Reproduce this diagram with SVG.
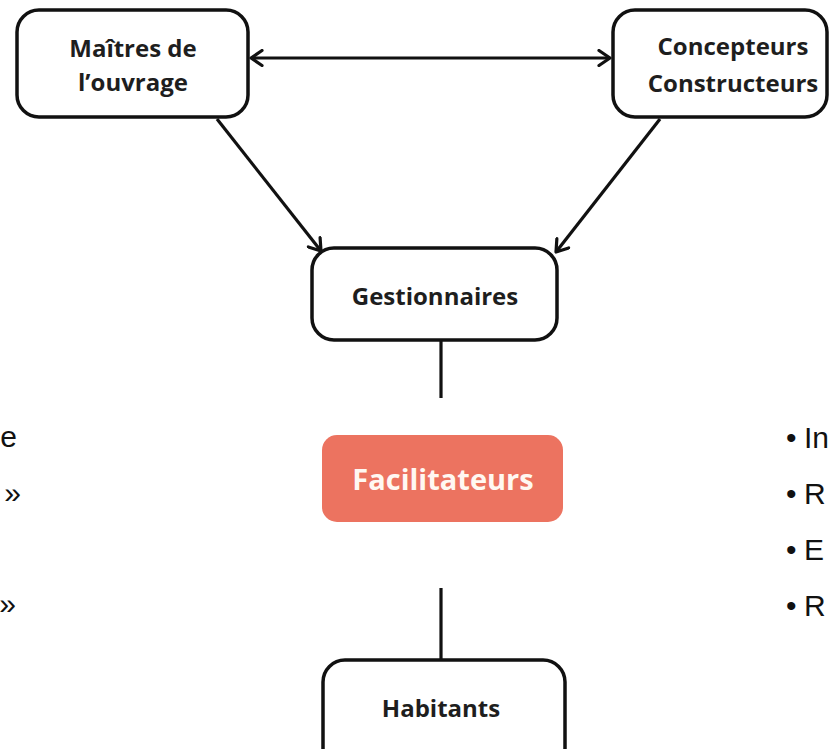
<svg xmlns="http://www.w3.org/2000/svg" width="829" height="749" viewBox="0 0 829 749">
<defs>
<style>
.box{fill:#fff;stroke:#111;stroke-width:3.5}
.lbl{font-family:"Open Sans","Liberation Sans",sans-serif;font-weight:700;font-size:24px;fill:#1e1e1e;text-anchor:middle}
.side{font-family:"Liberation Sans",Arial,sans-serif;font-size:30px;fill:#111}
.con{stroke:#111;stroke-width:3.2;fill:none}
</style>
<marker id="ah" markerWidth="18" markerHeight="18" refX="14" refY="9" orient="auto-start-reverse" markerUnits="userSpaceOnUse">
<path d="M3,1.5 L14,9 L3,16.5" fill="none" stroke="#111" stroke-width="3.2" stroke-linecap="round" stroke-linejoin="round"/>
</marker>
</defs>
<rect width="829" height="749" fill="#fff"/>
<g id="connectors">
<line class="con" x1="251" y1="58" x2="610" y2="58" marker-start="url(#ah)" marker-end="url(#ah)"/>
<line class="con" x1="217" y1="119" x2="321" y2="251" marker-end="url(#ah)"/>
<line class="con" x1="660" y1="119" x2="556" y2="252" marker-end="url(#ah)"/>
<line class="con" x1="441" y1="340" x2="441" y2="398"/>
<line class="con" x1="441" y1="588" x2="441" y2="660"/>
</g>
<g id="maitres">
<rect class="box" x="17" y="10" width="231" height="107" rx="22"/>
<text class="lbl" x="133" y="57">Maîtres de</text>
<text class="lbl" x="133" y="91">l’ouvrage</text>
</g>
<g id="concepteurs">
<rect class="box" x="613" y="10" width="214" height="107" rx="22"/>
<text class="lbl" x="733" y="55">Concepteurs</text>
<text class="lbl" x="733" y="92">Constructeurs</text>
</g>
<g id="gestionnaires">
<rect class="box" x="312" y="248" width="245" height="92" rx="22"/>
<text class="lbl" x="435" y="305">Gestionnaires</text>
</g>
<g id="facilitateurs">
<rect x="322" y="435" width="241" height="87" rx="15" fill="#EC7360"/>
<text class="lbl" x="443" y="490" style="font-size:29px;fill:#FFF8F2">Facilitateurs</text>
</g>
<g id="habitants">
<rect class="box" x="323" y="660" width="242" height="110" rx="22"/>
<text class="lbl" x="441" y="717">Habitants</text>
</g>
<g id="left-text">
<text class="side" x="17" y="447" text-anchor="end">e</text>
<text class="side" x="21" y="503" text-anchor="end">»</text>
<text class="side" x="16" y="614" text-anchor="end">»</text>
</g>
<g id="right-text">
<text class="side" y="448"><tspan x="786">•</tspan><tspan x="804">In</tspan></text>
<text class="side" y="504"><tspan x="786">•</tspan><tspan x="804">R</tspan></text>
<text class="side" y="560"><tspan x="786">•</tspan><tspan x="804">E</tspan></text>
<text class="side" y="616"><tspan x="786">•</tspan><tspan x="804">R</tspan></text>
</g>
</svg>
